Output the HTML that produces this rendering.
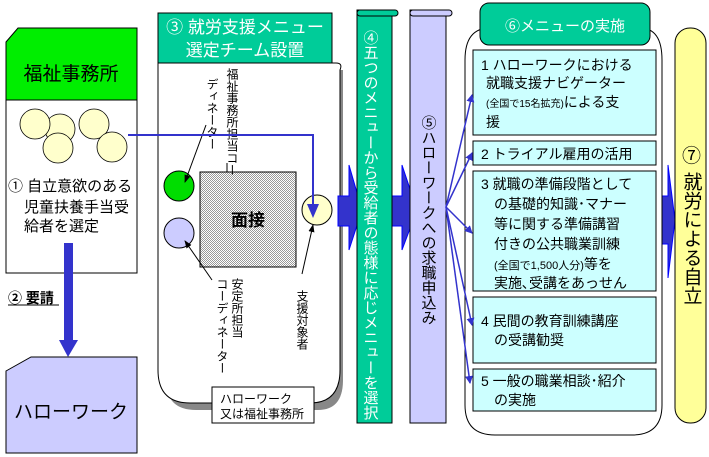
<!DOCTYPE html>
<html><head><meta charset="utf-8"><style>
body{margin:0;background:#fff;width:709px;height:457px;overflow:hidden}
svg{display:block}
text{font-family:"Liberation Sans","Noto Sans CJK JP",sans-serif;fill:#000}
</style></head><body>
<svg width="709" height="457" viewBox="0 0 709 457" xmlns="http://www.w3.org/2000/svg">
<defs>
<pattern id="h" width="2" height="2" patternUnits="userSpaceOnUse"><rect width="2" height="2" fill="#fff"/><rect width="1" height="1" fill="#999"/><rect x="1" y="1" width="1" height="1" fill="#999"/></pattern>
<marker id="a" markerWidth="8" markerHeight="8" refX="7" refY="4" orient="auto" markerUnits="userSpaceOnUse"><path d="M0,0 L8,4 L0,8z" fill="#3333cc"/></marker>
<marker id="k" markerWidth="8" markerHeight="8" refX="7" refY="4" orient="auto" markerUnits="userSpaceOnUse"><path d="M0,1 L8,4 L0,7z" fill="#000"/></marker>
</defs>
<!-- 福祉事務所 -->
<path d="M6,42 L18,28 L137,28 L137,100 L6,100z" fill="#00ee00" stroke="#000"/>
<text x="71" y="80" font-size="19" text-anchor="middle">福祉事務所</text>
<rect x="6" y="100" width="131" height="173" fill="#fff" stroke="#000"/>
<g fill="#ffffcc" stroke="#000" stroke-width="0.8">
<circle cx="60" cy="129" r="15"/><circle cx="35" cy="124" r="15"/><circle cx="58" cy="148" r="15"/><circle cx="94" cy="124" r="15"/><circle cx="112" cy="147" r="15"/></g>
<text x="8" y="191" font-size="15">① 自立意欲のある</text>
<text x="24" y="212" font-size="15">児童扶養手当受</text>
<text x="24" y="231" font-size="15">給者を選定</text>
<rect x="64" y="243" width="9" height="100" fill="#3333cc"/>
<path d="M59,340 L78,340 L68,357z" fill="#3333cc"/>
<text x="8" y="303" font-size="14" font-weight="bold">② 要請</text>
<line x1="8" y1="305" x2="59" y2="305" stroke="#000"/>
<path d="M6,371 L31,357 L137,357 L137,453 L6,453z" fill="#ccccff" stroke="#000"/>
<text x="71" y="418" font-size="19" text-anchor="middle">ハローワーク</text>
<!-- team -->
<path d="M166,70 L343,70 L343,380 Q343,410 318,410 L196,410 Q166,410 166,380z" fill="#888"/>
<path d="M158,63 L336,63 Q343,63 340,70 L340,370 Q340,403 310,403 L190,403 Q158,403 158,370z" fill="#fff" stroke="#000"/>
<rect x="158" y="13" width="174" height="50" fill="#00cc99" stroke="#000"/>
<text x="245" y="33" font-size="17" fill="#fff" text-anchor="middle" style="fill:#fff">③ 就労支援メニュー</text>
<text x="245" y="56" font-size="17" text-anchor="middle" style="fill:#fff">選定チーム設置</text>
<circle cx="179" cy="186" r="15" fill="#00dd00" stroke="#000"/>
<circle cx="179" cy="233" r="15" fill="#ccccff" stroke="#000"/>
<rect x="200" y="172" width="96" height="95" fill="url(#h)" stroke="#000"/>
<text x="248" y="226" font-size="17" font-weight="bold" text-anchor="middle">面接</text>
<circle cx="317" cy="210" r="15" fill="#ffffcc" stroke="#000"/>
<g font-size="12">
<text x="232" y="68" style="writing-mode:tb" >福祉事務所担当コー</text>
<text x="212" y="78" style="writing-mode:tb">ディネーター</text>
<text x="237" y="278" style="writing-mode:tb">安定所担当</text>
<text x="222" y="278" style="writing-mode:tb">コーディネーター</text>
<text x="302" y="290" style="writing-mode:tb">支援対象者</text>
</g>
<line x1="227" y1="172" x2="227" y2="163" stroke="#000"/>
<line x1="206" y1="125" x2="185" y2="182" stroke="#000" marker-end="url(#k)"/>
<line x1="212" y1="280" x2="185" y2="241" stroke="#000" marker-end="url(#k)"/>
<line x1="302" y1="274" x2="313" y2="225" stroke="#000" marker-end="url(#k)"/>
<rect x="212" y="387" width="102" height="36" fill="#fff" stroke="#000"/>
<text x="220" y="403" font-size="12">ハローワーク</text>
<text x="220" y="418" font-size="12">又は福祉事務所</text>
<polyline points="128,135 313,135 313,210" fill="none" stroke="#3333cc" stroke-width="2"/>
<path d="M307,204 L319,204 L313,218z" fill="#3333cc"/>
<!-- big arrows -->
<path d="M338,196 L349,196 L349,165 L362,210 L349,250 L349,226 L338,226z" fill="#3333cc" stroke="#0000ff"/>
<path d="M392,196 L402,196 L402,165 L417,210 L402,250 L402,226 L392,226z" fill="#3333cc" stroke="#0000ff"/>
<path d="M661,196 L668,196 L668,165 L675,220 L668,278 L668,244 L661,244z" fill="#3333cc" stroke="#0000ff"/>
<!-- scrolls -->
<rect x="357" y="10" width="35" height="413" fill="#00cc99" stroke="#000"/>
<rect x="357" y="10" width="41" height="6" rx="3" fill="#00cc99" stroke="#000"/>
<text x="370" y="30" font-size="15" style="writing-mode:tb;fill:#fff">④五つのメニューから受給者の態様に応じメニューを選択</text>
<rect x="410" y="10" width="36" height="413" fill="#ccccff" stroke="#000"/>
<rect x="410" y="10" width="42" height="6" rx="3" fill="#ccccff" stroke="#000"/>
<text x="428" y="115" font-size="15" style="writing-mode:tb">⑤ハローワークへの求職申込み</text>
<!-- 6 -->
<path d="M490,28 L640,28 Q662,28 662,60 L662,405 Q662,435 632,435 L495,435 Q465,435 465,405 L465,60 Q465,28 490,28z" fill="#fff" stroke="#000"/>
<rect x="480" y="3" width="170" height="42" rx="9" fill="#00cc99" stroke="#000"/>
<text x="565" y="31" font-size="15" text-anchor="middle" style="fill:#fff">⑥メニューの実施</text>
<g fill="#ccffff" stroke="#000">
<rect x="473" y="50" width="183" height="85"/>
<rect x="473" y="141" width="183" height="24"/>
<rect x="473" y="171" width="183" height="120"/>
<rect x="473" y="297" width="183" height="66"/>
<rect x="473" y="369" width="183" height="42"/>
</g>
<g font-size="14">
<text x="481" y="70">1 ハローワークにおける</text>
<text x="486" y="88">就職支援ナビゲーター</text>
<text x="486" y="107"><tspan font-size="10">(全国で15名拡充)</tspan>による支</text>
<text x="486" y="127">援</text>
<text x="481" y="159">2 トライアル雇用の活用</text>
<text x="481" y="189">3 就職の準備段階として</text>
<text x="494" y="209">の基礎的知識･マナー</text>
<text x="494" y="229">等に関する準備講習</text>
<text x="494" y="249">付きの公共職業訓練</text>
<text x="494" y="269"><tspan font-size="11">(全国で1,500人分)</tspan>等を</text>
<text x="494" y="288">実施､受講をあっせん</text>
<text x="481" y="326">4 民間の教育訓練講座</text>
<text x="494" y="345">の受講勧奨</text>
<text x="481" y="386">5 一般の職業相談･紹介</text>
<text x="494" y="405">の実施</text>
</g>
<g stroke="#3333cc" stroke-width="1.5" marker-end="url(#a)">
<line x1="446" y1="207" x2="472" y2="95"/>
<line x1="446" y1="207" x2="472" y2="153"/>
<line x1="446" y1="207" x2="472" y2="233"/>
<line x1="446" y1="207" x2="472" y2="325"/>
<line x1="446" y1="207" x2="470" y2="383"/>
</g>
<!-- 7 -->
<rect x="675" y="28" width="31" height="395" rx="15" fill="#ffff99" stroke="#000"/>
<text x="682" y="162" font-size="19">⑦</text>
<text x="691" y="172" font-size="19" style="writing-mode:tb">就労による自立</text>
</svg>
</body></html>
